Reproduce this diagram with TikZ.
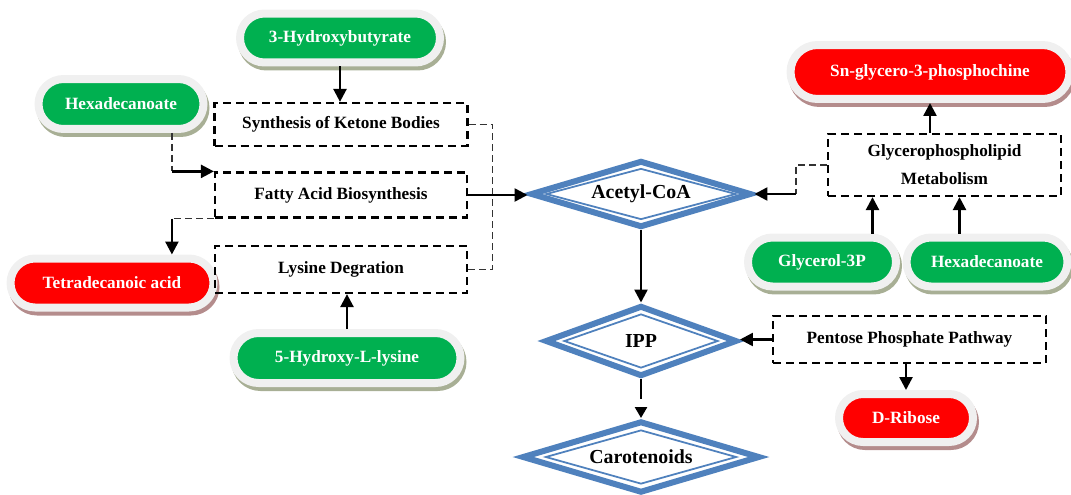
\documentclass[tikz,border=0pt]{standalone}
\usepackage{fontspec}
\setmainfont{Liberation Serif}
\usepackage{tikz}
\usetikzlibrary{shapes.geometric,shapes.misc,arrows.meta,calc}
\definecolor{leafgreen}{HTML}{00B050}
\definecolor{alarmred}{HTML}{FF0000}
\definecolor{ringgray}{HTML}{F0F0F0}
\definecolor{oliveshade}{HTML}{A8AF95}
\definecolor{roseshade}{HTML}{B48C8C}
\definecolor{diablue}{HTML}{4F81BD}

\begin{document}
\begin{tikzpicture}[x=0.02cm,y=-0.02cm,
	pill/.style={rounded rectangle, draw=ringgray, line width=0.16cm, inner sep=0pt, text=white,
		font=\bfseries\fontsize{9.8}{11}\selectfont,
		preaction={draw=#1, line width=0.16cm, transform canvas={xshift=0.04cm,yshift=-0.08cm}}},
	greenpill/.style={pill=oliveshade, fill=leafgreen},
	redpill/.style={pill=roseshade, fill=alarmred},
	procbox/.style={draw, line width=0.045cm, dash pattern=on 0.16cm off 0.1cm, inner sep=0pt,
		font=\bfseries\fontsize{9.8}{16}\selectfont, align=center},
	outerdia/.style={diamond, aspect=4, draw=diablue, line width=0.12cm, inner sep=0pt, fill=white,
		font=\bfseries\fontsize{11.3}{13}\selectfont},
	innerdia/.style={diamond, aspect=4, draw=diablue, line width=0.035cm, inner sep=0pt},
	flow/.style={line width=0.05cm, -{Triangle[length=0.26cm,width=0.26cm]}},
	flowdash/.style={line width=0.05cm, dash pattern=on 0.4cm off 0.2cm, -{Triangle[length=0.22cm,width=0.24cm]}},
	thindash/.style={line width=0.028cm, black!80, dash pattern=on 0.14cm off 0.08cm}]
	\useasboundingbox (0,0) rectangle (1071,494);

	\node[greenpill, minimum width=4.0cm, minimum height=0.98cm] (hbut) at (340,38) {3-Hydroxybutyrate};
	\node[greenpill, minimum width=3.3cm, minimum height=1.0cm] (hexL) at (121,104) {Hexadecanoate};
	\node[redpill, minimum width=4.06cm, minimum height=0.98cm] (tetra) at (112,283) {Tetradecanoic acid};
	\node[greenpill, minimum width=4.54cm, minimum height=1.0cm] (lys5) at (347,358) {5-Hydroxy-L-lysine};
	\node[redpill, minimum width=5.58cm, minimum height=1.08cm] (sn) at (930,72) {Sn-glycero-3-phosphochine};
	\node[greenpill, minimum width=2.96cm, minimum height=0.98cm] (gly3p) at (822,262) {Glycerol-3P};
	\node[greenpill, minimum width=3.22cm, minimum height=0.98cm] (hexR) at (987,262) {Hexadecanoate};
	\node[redpill, minimum width=2.68cm, minimum height=0.96cm] (ribose) at (906,418) {D-Ribose};

	\node[procbox, minimum width=5.06cm, minimum height=0.86cm] (keto) at (341,124.5) {Synthesis of Ketone Bodies};
	\node[procbox, minimum width=5.04cm, minimum height=0.9cm] (fatty) at (341,195) {Fatty Acid Biosynthesis};
	\node[procbox, minimum width=5.04cm, minimum height=0.94cm] (lysdeg) at (341,269.5) {Lysine Degration};
	\node[procbox, minimum width=4.66cm, minimum height=1.24cm] (glyco) at (944.5,165) {Glycerophospholipid\\Metabolism};
	\node[procbox, minimum width=5.46cm, minimum height=0.94cm] (pentose) at (909.5,339.5) {Pentose Phosphate Pathway};

	\node[outerdia, minimum width=4.42cm, minimum height=1.34cm] (acoa) at (641,194) {Acetyl-CoA};
	\node[innerdia, minimum width=3.8cm, minimum height=1.02cm] (acoai) at (acoa) {};
	\node[outerdia, minimum width=3.84cm, minimum height=1.42cm] (ipp) at (641,341) {IPP};
	\node[innerdia, minimum width=3.08cm, minimum height=1.08cm] (ippi) at (ipp) {};
	\node[outerdia, minimum width=4.76cm, minimum height=1.44cm] (carot) at (641,457) {Carotenoids};
	\node[innerdia, minimum width=3.82cm, minimum height=1.08cm] (caroti) at (carot) {};

	\draw[flow] (hbut.south) -- (hbut.south |- keto.north);
	\coordinate (hbend) at ($(fatty.north west)+(-42,0)$);
	\draw[thindash] (hbend |- hexL.south) -- (hbend);
	\draw[flow] (hbend) -- (fatty.north west);
	\coordinate (tbend) at ($(fatty.south west)+(-42,0)$);
	\draw[thindash] (fatty.south west) -- (tbend);
	\draw[flow] (tbend) -- (tbend |- tetra.north);
	\draw[thindash] (keto.east) -- ++(24,0) |- (lysdeg.east);
	\draw[flow] (fatty.east) -- (fatty.east -| acoa.west);
	\draw[flow] (lys5.north) -- (lys5.north |- lysdeg.south);

	\draw[flow] (acoa.south) -- (ipp.north);
	\draw[flowdash] (ipp.south) -- (carot.north);
	\draw[flow] (pentose.west) -- (pentose.west -| ipp.east);
	\draw[flow] (ribose.north |- pentose.south) -- (ribose.north);

	\draw[flow] (sn.south |- glyco.north) -- (sn.south);
	\coordinate (ga) at ($(glyco.south)+(-72,0)$);
	\draw[flow] (ga |- gly3p.north) -- (ga);
	\coordinate (gb) at ($(glyco.south)+(15,0)$);
	\draw[flow] (gb |- hexR.north) -- (gb);
	\coordinate (gbend) at ($(glyco.west)+(-31,0)$);
	\draw[thindash] (glyco.west) -- (gbend) -- (gbend |- acoa.east);
	\draw[flow] (gbend |- acoa.east) -- (acoa.east);
\end{tikzpicture}
\end{document}
